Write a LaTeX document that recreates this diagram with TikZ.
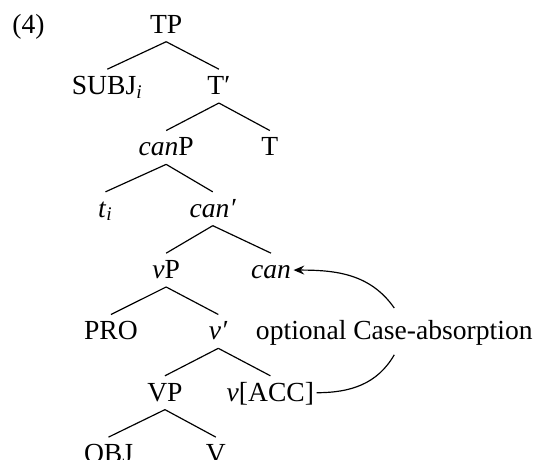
\documentclass[tikz,border=0pt]{standalone}
\usepackage{fontspec}
\setmainfont{Liberation Serif}[ItalicFont={Liberation Serif Italic}]
\usetikzlibrary{arrows.meta}

\begin{document}
\begin{tikzpicture}[
        every node/.style={anchor=base, inner sep=1pt, text height=10.5pt, text depth=2.8pt,
            font=\fontsize{12.8}{15}\selectfont},
        branch/.style={line width=0.55pt},
    ]
        \useasboundingbox (0,0.54) rectangle (8.79,-6.95);

        \node (ex) [anchor=base west] at (0.16,0) {(4)};
        \node (tp) at (2.71,0) {TP};

        \node (subj) at (1.75,-1) {SUBJ\textsubscript{\textit{i}}};
        \node (tbar) at (3.57,-1) {T′};
        \draw[branch] (tp.south) -- (subj.north);
        \draw[branch] (tp.south) -- (tbar.north);

        \node (canp) at (2.71,-2) {\textit{can}P};
        \node (t) at (4.40,-2) {T};
        \draw[branch] (tbar.south) -- (canp.north);
        \draw[branch] (tbar.south) -- (t.north);

        \node (trace) at (1.72,-3) {\textit{t}\textsubscript{\textit{i}}};
        \node (canbar) at (3.47,-3) {\textit{can′}};
        \draw[branch] (canp.south) -- (trace.north);
        \draw[branch] (canp.south) -- (canbar.north);

        \node (vp) at (2.71,-4) {\textit{v}P};
        \node (can) at (4.42,-4) {\textit{can}};
        \draw[branch] (canbar.south) -- (vp.north);
        \draw[branch] (canbar.south) -- (can.north);

        \node (pro) at (1.81,-5) {PRO};
        \node (vbar) at (3.56,-5) {\textit{v′}};
        \draw[branch] (vp.south) -- (pro.north);
        \draw[branch] (vp.south) -- (vbar.north);

        \node (bigvp) at (2.69,-6) {VP};
        \node (vacc) at (4.41,-6) {\textit{v}[ACC]};
        \draw[branch] (vbar.south) -- (bigvp.north);
        \draw[branch] (vbar.south) -- (vacc.north);

        \node (obj) at (1.77,-7) {OBJ};
        \node (verb) at (3.52,-7) {V};
        \draw[branch] (bigvp.south) -- (obj.north);
        \draw[branch] (bigvp.south) -- (verb.north);

        % v moves its Case up to can
        \node (absorb) [inner sep=4pt] at (6.43,-5) {optional Case-absorption};
        \draw[branch] (vacc.east) to[out=0, in=-120] (absorb.south);
        \draw[branch, -{Stealth[length=5pt, width=4.2pt, inset=1.8pt]}] (absorb.north) to[out=125, in=0] (can.east);

    \end{tikzpicture}
\end{document}
